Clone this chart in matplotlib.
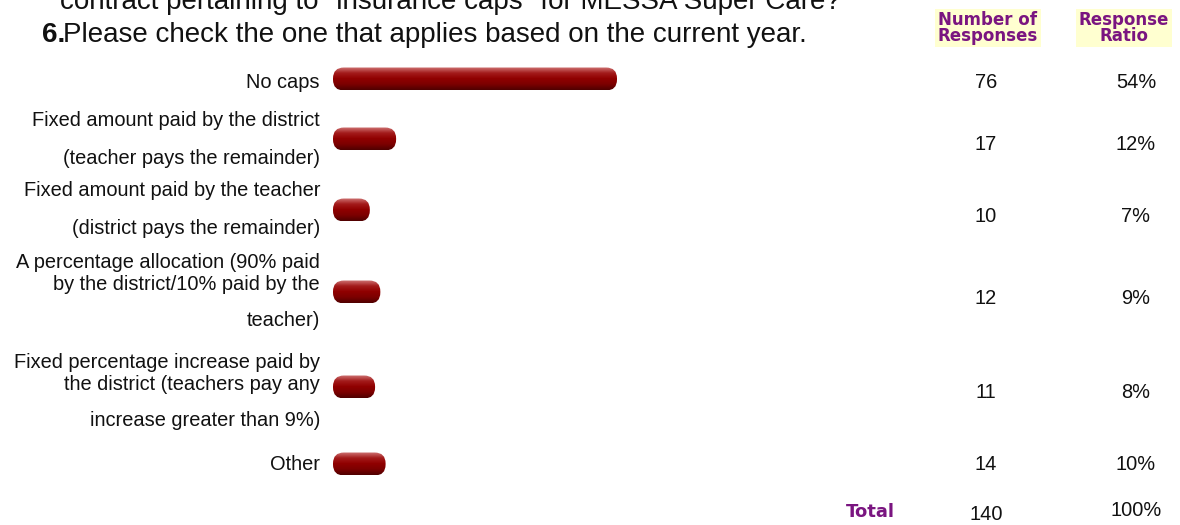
import numpy as np
import matplotlib
matplotlib.use("Agg")
import matplotlib.pyplot as plt
from matplotlib.patches import FancyBboxPatch
from matplotlib.colors import LinearSegmentedColormap

# survey question 6 results
labels = [
    ["No caps"],
    ["Fixed amount paid by the district", "(teacher pays the remainder)"],
    ["Fixed amount paid by the teacher", "(district pays the remainder)"],
    ["A percentage allocation (90% paid", "by the district/10% paid by the", "teacher)"],
    ["Fixed percentage increase paid by", "the district (teachers pay any", "increase greater than 9%)"],
    ["Other"],
]
counts = [76, 17, 10, 12, 11, 14]
ratios = [54, 12, 7, 9, 8, 10]
total_count = 140
total_ratio = 100

# row layout (pixel coords, y down)
bar_y = [79, 139, 210, 292, 387, 464]
num_y = [83, 145, 216, 298, 392, 464]
label_y = [[83], [120, 158], [190, 228], [262, 284, 321], [362, 384, 420], [465]]

plt.rcParams['font.family'] = ['Liberation Sans', 'DejaVu Sans']

fig = plt.figure(figsize=(11.8, 5.25), dpi=100)
ax = fig.add_axes([0, 0, 1, 1])
ax.set_xlim(0, 1180)
ax.set_ylim(525, 0)
ax.axis('off')

purple = '#7a1580'
txt_col = '#111111'
x0 = 333
px_per_pct = 284 / 54.0
bar_h = 23
fs = 14.4

# vertical shading for the pill bars
cmap = LinearSegmentedColormap.from_list(
    'bar', ['#cf7474', '#a41c1c', '#900000', '#7c0000', '#500000'])
grad = np.linspace(0, 1, 64).reshape(-1, 1)

for i in range(len(counts)):
    w = ratios[i] * px_per_pct
    yc = bar_y[i]
    r = bar_h / 2.0
    box = FancyBboxPatch((x0, yc - bar_h / 2), w, bar_h,
                         boxstyle="round,pad=0,rounding_size=%f" % (r * 0.95),
                         facecolor='none', edgecolor='none')
    ax.add_patch(box)
    im = ax.imshow(grad, cmap=cmap, aspect='auto',
                   extent=(x0, x0 + w, yc + bar_h / 2, yc - bar_h / 2),
                   interpolation='bilinear', zorder=2)
    im.set_clip_path(box)

    for j, line in enumerate(labels[i]):
        ax.text(320, label_y[i][j], line, ha='right', va='center',
                fontsize=fs, color=txt_col)
    ax.text(986, num_y[i], str(counts[i]), ha='center', va='center',
            fontsize=fs, color=txt_col)
    ax.text(1136, num_y[i], "%d%%" % ratios[i], ha='center', va='center',
            fontsize=fs, color=txt_col)

# question header (first line runs off the top edge)
ax.text(60, 2, 'contract pertaining to "insurance caps" for MESSA Super Care?',
        ha='left', va='center', fontsize=20, color=txt_col)
ax.text(42, 35, '6.', ha='left', va='center', fontsize=20,
        fontweight='bold', color=txt_col)
ax.text(63, 35, 'Please check the one that applies based on the current year.',
        ha='left', va='center', fontsize=20, color=txt_col)

# column headers
for cx, txt in [(988, 'Number of\nResponses'), (1124, 'Response\nRatio')]:
    ax.text(cx, 28, txt, ha='center', va='center', fontsize=12,
            family='DejaVu Sans', fontweight='bold', color=purple,
            linespacing=0.85,
            bbox=dict(boxstyle='square,pad=0.15', facecolor='#ffffd0',
                      edgecolor='none'))

# totals row
ax.text(870, 512, 'Total', ha='center', va='center', fontsize=13,
        family='DejaVu Sans', fontweight='bold', color=purple)
ax.text(986, 514, str(total_count), ha='center', va='center',
        fontsize=fs, color=txt_col)
ax.text(1136, 510, "%d%%" % total_ratio, ha='center', va='center',
        fontsize=fs, color=txt_col)

fig.savefig('out.png', dpi=100)
